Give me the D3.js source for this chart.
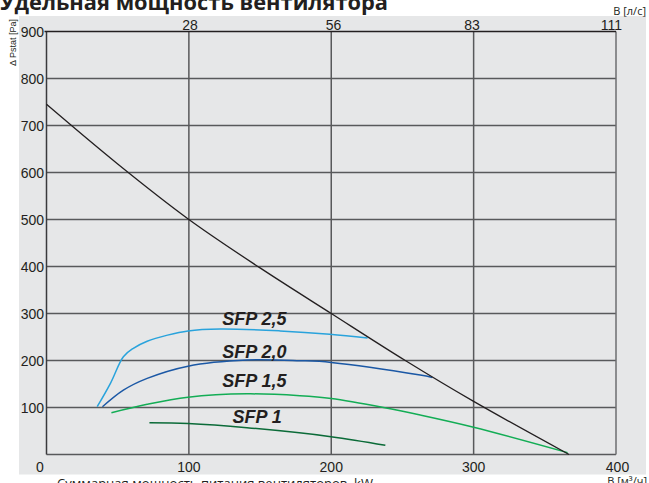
<!DOCTYPE html>
<html><head><meta charset="utf-8">
<script src="https://cdn.jsdelivr.net/npm/d3@7"></script>
<style>body{margin:0;background:#fff}svg{display:block}</style>
</head><body>
<svg id="c" width="649" height="483"></svg>
<script>
// ---- data ----
const xTicks = [0, 100, 200, 300, 400];           // m³/h
const xTopTicks = [28, 56, 83, 111];              // l/s
const yTicks = [0, 100, 200, 300, 400, 500, 600, 700, 800, 900];
const fanCurveX = [0, 50, 100, 150, 200, 252, 300, 367];
const fanCurveY = [745, 618, 500, 397, 300, 200, 113, 0];
const sfp25X = [35.6, 45, 54, 61, 70.7, 85, 99.4, 122, 164, 199, 225.5];
const sfp25Y = [101.7, 152, 208, 226, 241, 254, 263, 267, 263, 256, 248];
const sfp20X = [39.3, 54, 70.7, 99.4, 140.8, 178, 200, 262.5, 271];
const sfp20Y = [101.7, 137, 162, 188, 201, 199.6, 196, 169, 164];
const sfp15X = [45.6, 70.7, 99.4, 140.8, 178, 200, 236.7, 262.5, 300, 366];
const sfp15Y = [89, 107, 122, 129, 125, 119, 100, 84, 58, 4];
const sfp1X = [72.3, 99.4, 140.8, 199.8, 238];
const sfp1Y = [67.7, 66, 57, 38, 19.6];
const seriesNames = ["SFP 2,5", "SFP 2,0", "SFP 1,5", "SFP 1"];
const seriesColors = ["#29a3dc", "#1b58a5", "#13ad55", "#0b6b38"];
const labelPos = [[146, 275], [146, 205], [146, 144], [148, 67]]; // label centre x / baseline y in data units

const svg = d3.select("#c");
const x = d3.scaleLinear().domain([0, 400]).range([46.5, 616]);
const xTop = d3.scaleLinear().domain([0, 400 / 3.6]).range([46.5, 616]);
const y = d3.scaleLinear().domain([0, 900]).range([454.5, 31.5]);

// background
svg.append("rect").attr("x", 19).attr("y", 16).attr("width", 627).attr("height", 458.5).attr("fill", "#e6e7e8");

// title (top cut off)
svg.append("text").attr("x", 0).attr("y", 10)
  .attr("font-family", "'Open Sans', sans-serif").attr("font-weight", 700).attr("font-size", 21)
  .attr("fill", "#231f20").attr("textLength", 388).attr("lengthAdjust", "spacingAndGlyphs")
  .text("Удельная мощность вентилятора");

// grid
const g = svg.append("g");
g.selectAll(".hg").data(yTicks.filter(d => d > 0 && d < 900)).join("line")
  .attr("x1", x(0)).attr("x2", x(400)).attr("y1", d => y(d)).attr("y2", d => y(d))
  .attr("stroke", "#58595b").attr("stroke-width", 1.5);
g.selectAll(".vg").data(xTicks.filter(d => d > 0 && d < 400)).join("line")
  .attr("x1", d => x(d)).attr("x2", d => x(d)).attr("y1", y(0)).attr("y2", y(900))
  .attr("stroke", "#58595b").attr("stroke-width", 1.5);
// frame
g.append("line").attr("x1", x(0)).attr("x2", x(400)).attr("y1", y(0)).attr("y2", y(0)).attr("stroke", "#58595b").attr("stroke-width", 1.5);
g.append("line").attr("x1", x(400)).attr("x2", x(400)).attr("y1", y(0)).attr("y2", y(900)).attr("stroke", "#6d6e71").attr("stroke-width", 1.5);
g.append("line").attr("x1", x(0)).attr("x2", x(0)).attr("y1", y(0)).attr("y2", y(900)).attr("stroke", "#3a3a3c").attr("stroke-width", 1.5);
g.append("line").attr("x1", x(0) - 2).attr("x2", x(400)).attr("y1", y(900)).attr("y2", y(900)).attr("stroke", "#231f20").attr("stroke-width", 1.5);

// tick labels
const tf = "'Liberation Sans', Arial, sans-serif";
svg.selectAll(".yl").data(yTicks.filter(d => d > 0)).join("text")
  .attr("x", x(0) - 2.5).attr("y", d => y(d)).attr("dy", "0.36em")
  .attr("text-anchor", "end").attr("font-family", tf).attr("font-size", 14).attr("fill", "#231f20")
  .text(d => d);
svg.selectAll(".xl").data(xTicks).join("text")
  .attr("x", d => d === 0 ? x(d) - 6.5 : x(d) + (d === 400 ? 1.5 : 0)).attr("y", 472)
  .attr("text-anchor", "middle").attr("font-family", tf).attr("font-size", 14).attr("fill", "#231f20")
  .text(d => d);
svg.selectAll(".xt").data(xTopTicks).join("text")
  .attr("x", d => xTop(d) - (d === 111 ? 4 : 0)).attr("y", 29.5)
  .attr("text-anchor", "middle").attr("font-family", tf).attr("font-size", 14).attr("fill", "#231f20")
  .text(d => d);

// axis titles
svg.append("text").attr("transform", "translate(16,19) rotate(-90)")
  .attr("text-anchor", "end").attr("font-family", tf).attr("font-size", 9).attr("fill", "#231f20")
  .text("Δ Pstat [Pa]");
svg.append("text").attr("x", 646).attr("y", 14.5).attr("text-anchor", "end")
  .attr("font-family", "'Open Sans', sans-serif").attr("font-size", 11).attr("fill", "#231f20")
  .text("В [л/с]");
svg.append("text").attr("x", 647).attr("y", 485).attr("text-anchor", "end")
  .attr("font-family", "'Open Sans', sans-serif").attr("font-size", 11).attr("fill", "#231f20")
  .text("В [м³/ч]");
svg.append("text").attr("x", 57).attr("y", 488)
  .attr("font-family", "'Open Sans', sans-serif").attr("font-size", 13).attr("fill", "#231f20")
  .attr("textLength", 316).attr("lengthAdjust", "spacingAndGlyphs")
  .text("Суммарная мощность питания вентиляторов, kW");

// curves
const zip = (a, b) => a.map((v, i) => [v, b[i]]);
const series = [zip(sfp25X, sfp25Y), zip(sfp20X, sfp20Y), zip(sfp15X, sfp15Y), zip(sfp1X, sfp1Y)];
const lineNat = d3.line().x(d => x(d[0])).y(d => y(d[1])).curve(d3.curveCatmullRom.alpha(0.5));
series.forEach((s, i) => {
  svg.append("path").attr("d", lineNat(s)).attr("fill", "none")
    .attr("stroke", seriesColors[i]).attr("stroke-width", 1.5);
});
svg.append("path").attr("d", lineNat(zip(fanCurveX, fanCurveY))).attr("fill", "none")
  .attr("stroke", "#231f20").attr("stroke-width", 1.3);

// series labels
svg.selectAll(".sl").data(seriesNames).join("text")
  .attr("x", (d, i) => x(labelPos[i][0])).attr("y", (d, i) => y(labelPos[i][1]))
  .attr("text-anchor", "middle").attr("font-family", tf).attr("font-weight", 700).attr("font-style", "italic")
  .attr("font-size", 18).attr("fill", "#231f20")
  .text(d => d);
</script>
</body></html>
